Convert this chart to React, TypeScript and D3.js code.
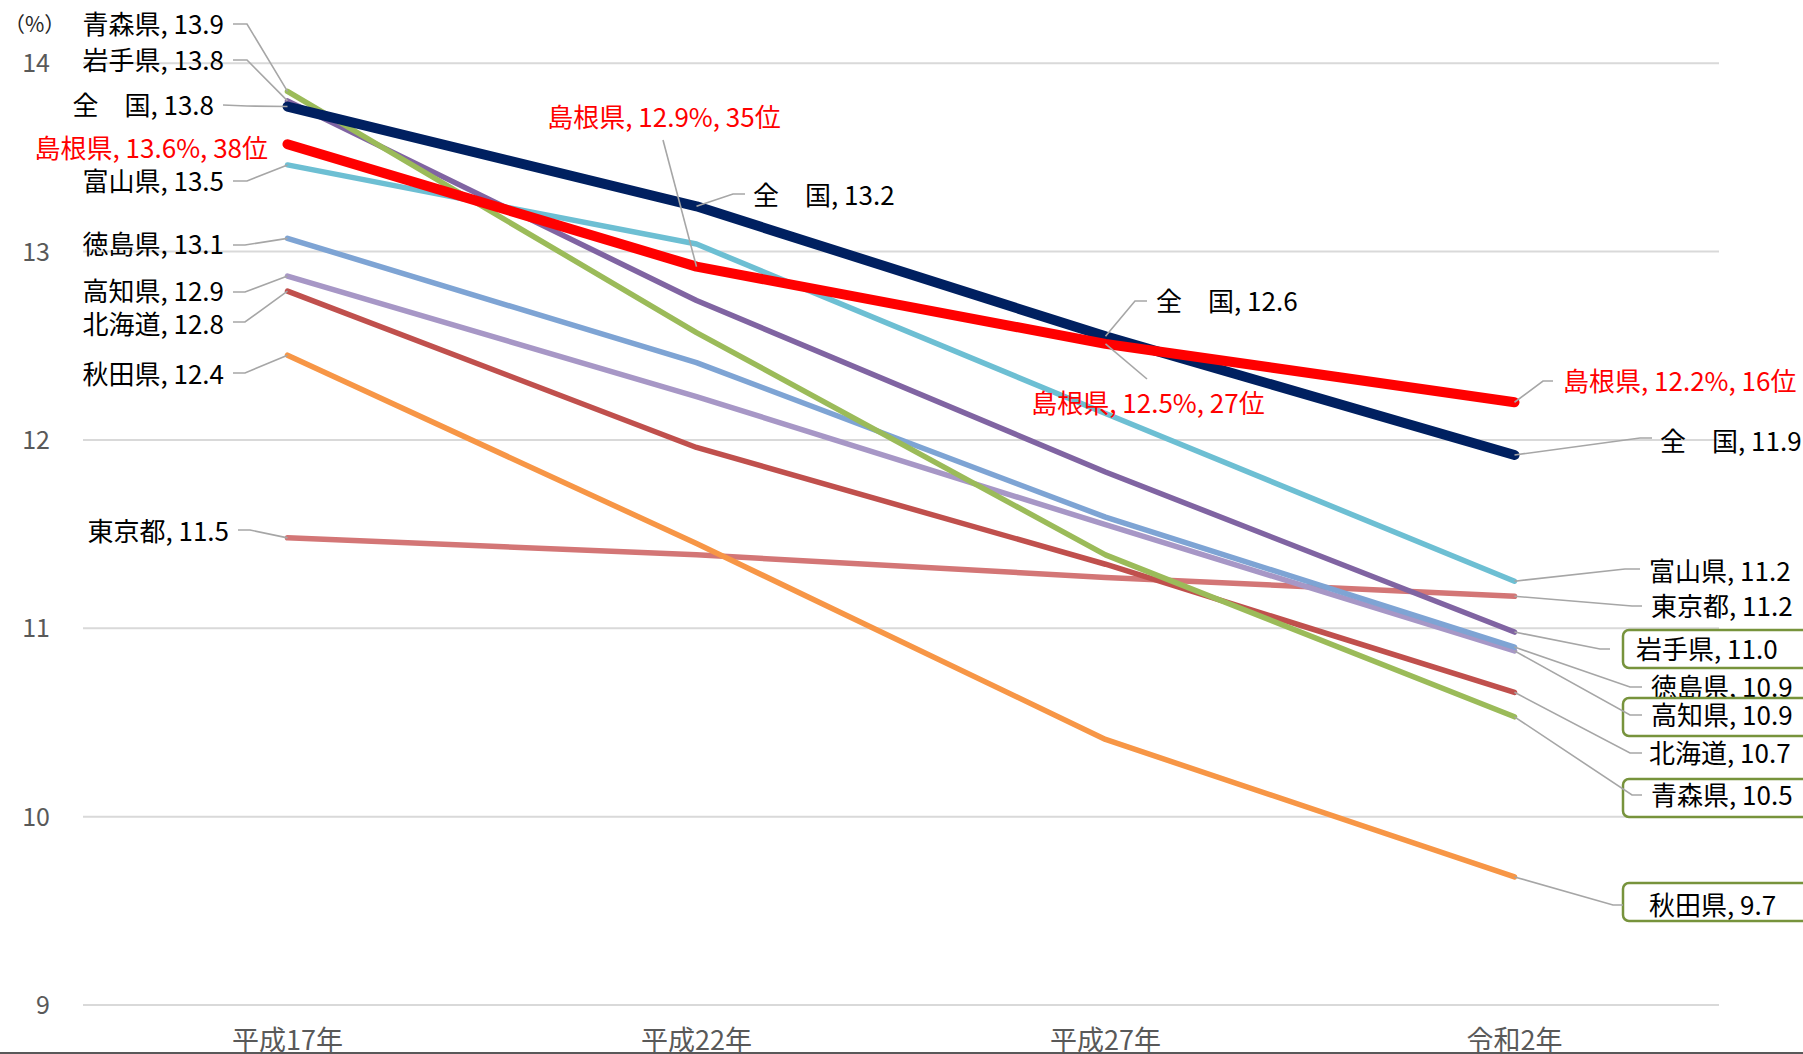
import React from "react";
import * as d3 from "d3";

const categories = ["平成17年", "平成22年", "平成27年", "令和2年"];
const yTicks = [9, 10, 11, 12, 13, 14];

const seriesNames = ["東京都", "秋田県", "北海道", "高知県", "徳島県", "富山県", "岩手県", "青森県", "全国", "島根県"];
const tokyo = [11.48, 11.39, 11.27, 11.17];
const akita = [12.45, 11.45, 10.41, 9.68];
const hokkaido = [12.79, 11.96, 11.34, 10.66];
const kochi = [12.87, 12.23, 11.55, 10.88];
const tokushima = [13.07, 12.41, 11.59, 10.9];
const toyama = [13.46, 13.04, 12.14, 11.25];
const iwate = [13.8, 12.74, 11.83, 10.98];
const aomori = [13.85, 12.57, 11.39, 10.53];
const national = [13.77, 13.24, 12.55, 11.92];
const shimane = [13.57, 12.92, 12.51, 12.2];

const seriesValues: Record<string, number[]> = {
  東京都: tokyo,
  秋田県: akita,
  北海道: hokkaido,
  高知県: kochi,
  徳島県: tokushima,
  富山県: toyama,
  岩手県: iwate,
  青森県: aomori,
  全国: national,
  島根県: shimane,
};

const seriesColors: Record<string, string> = {
  東京都: "#D37676",
  秋田県: "#F79646",
  北海道: "#C0504D",
  高知県: "#A797C6",
  徳島県: "#7EA4D4",
  富山県: "#6DBFD3",
  岩手県: "#8064A2",
  青森県: "#9BBB59",
  全国: "#002060",
  島根県: "#FF0000",
};

type Lab = {
  s: string;
  i: number;
  text: string;
  tx: number;
  ty: number;
  anchor: "start" | "end" | "middle";
  red?: boolean;
  leader?: [number, number, number, number] | null;
  box?: [number, number, number, number];
};

const labels: Lab[] = [
  { s: "青森県", i: 0, text: "青森県, 13.9", tx: 224, ty: 25, anchor: "end", leader: [247, 24, 233, 24] },
  { s: "岩手県", i: 0, text: "岩手県, 13.8", tx: 224, ty: 61, anchor: "end", leader: [247, 60, 233, 60] },
  { s: "全国", i: 0, text: "全　国, 13.8", tx: 214, ty: 106, anchor: "end", leader: [247, 106, 223, 105] },
  { s: "島根県", i: 0, text: "島根県, 13.6%, 38位", tx: 268, ty: 149, anchor: "end", red: true, leader: null },
  { s: "富山県", i: 0, text: "富山県, 13.5", tx: 224, ty: 182, anchor: "end", leader: [247, 181, 233, 181] },
  { s: "徳島県", i: 0, text: "徳島県, 13.1", tx: 224, ty: 245, anchor: "end", leader: [245, 245, 233, 245] },
  { s: "高知県", i: 0, text: "高知県, 12.9", tx: 224, ty: 292, anchor: "end", leader: [245, 292, 233, 292] },
  { s: "北海道", i: 0, text: "北海道, 12.8", tx: 224, ty: 325, anchor: "end", leader: [245, 322, 233, 322] },
  { s: "秋田県", i: 0, text: "秋田県, 12.4", tx: 224, ty: 375, anchor: "end", leader: [245, 373, 233, 373] },
  { s: "東京都", i: 0, text: "東京都, 11.5", tx: 229, ty: 532, anchor: "end", leader: [250, 530, 238, 530] },

  { s: "全国", i: 1, text: "全　国, 13.2", tx: 753, ty: 196, anchor: "start", leader: [733, 194, 745, 194] },
  { s: "島根県", i: 1, text: "島根県, 12.9%, 35位", tx: 664, ty: 118, anchor: "middle", red: true, leader: [663, 140, 663, 140] },
  { s: "全国", i: 2, text: "全　国, 12.6", tx: 1156, ty: 302, anchor: "start", leader: [1135, 301, 1147, 301] },
  { s: "島根県", i: 2, text: "島根県, 12.5%, 27位", tx: 1148, ty: 404, anchor: "middle", red: true, leader: [1147, 379, 1147, 379] },

  { s: "島根県", i: 3, text: "島根県, 12.2%, 16位", tx: 1563, ty: 382, anchor: "start", red: true, leader: [1543, 381, 1553, 381] },
  { s: "全国", i: 3, text: "全　国, 11.9", tx: 1660, ty: 442, anchor: "start", leader: [1640, 438, 1652, 438] },
  { s: "富山県", i: 3, text: "富山県, 11.2", tx: 1649, ty: 572, anchor: "start", leader: [1625, 569, 1640, 569] },
  { s: "東京都", i: 3, text: "東京都, 11.2", tx: 1651, ty: 607, anchor: "start", leader: [1632, 606, 1642, 606] },
  { s: "岩手県", i: 3, text: "岩手県, 11.0", tx: 1636, ty: 650, anchor: "start", leader: [1600, 649, 1610, 649], box: [1623, 630, 200, 38] },
  { s: "徳島県", i: 3, text: "徳島県, 10.9", tx: 1651, ty: 688, anchor: "start", leader: [1630, 687, 1642, 687] },
  { s: "高知県", i: 3, text: "高知県, 10.9", tx: 1651, ty: 716, anchor: "start", leader: [1630, 715, 1642, 715], box: [1623, 698, 200, 38] },
  { s: "北海道", i: 3, text: "北海道, 10.7", tx: 1649, ty: 754, anchor: "start", leader: [1630, 753, 1642, 753] },
  { s: "青森県", i: 3, text: "青森県, 10.5", tx: 1651, ty: 796, anchor: "start", leader: [1632, 795, 1642, 795], box: [1623, 779, 200, 38] },
  { s: "秋田県", i: 3, text: "秋田県, 9.7", tx: 1649, ty: 906, anchor: "start", leader: [1613, 905, 1623, 905], box: [1623, 883, 200, 38] },
];

const W = 1803;
const H = 1054;
const FONT = "'Noto Sans CJK JP', 'Noto Sans', sans-serif";

export default function App() {
  const x = d3.scalePoint<string>().domain(categories).range([83, 1719]).padding(0.5);
  const y = d3.scaleLinear().domain([9, 14]).range([1005, 63.2]);
  const line = d3
    .line<number>()
    .x((_, i) => x(categories[i]) as number)
    .y((d) => y(d));

  return (
    <svg
      width={W}
      height={H}
      viewBox={`0 0 ${W} ${H}`}
      style={{ position: "fixed", left: 0, top: 0, background: "#fff" }}
      fontFamily={FONT}
    >
      <rect x={0} y={0} width={W} height={H} fill="#fff" />
      {yTicks.map((t) => (
        <line key={t} x1={83} x2={1719} y1={y(t)} y2={y(t)} stroke="#D9D9D9" strokeWidth={2} />
      ))}
      {yTicks.map((t) => (
        <text key={"t" + t} x={50} y={y(t)} dy="0.36em" textAnchor="end" fontSize={25} fill="#595959">
          {t}
        </text>
      ))}
      <text x={4} y={24} dy="0.36em" fontSize={21} fill="#262626">
        （%）
      </text>
      {categories.map((c) => (
        <text key={c} x={x(c)} y={1050} textAnchor="middle" fontSize={27} fill="#595959">
          {c}
        </text>
      ))}
      <line x1={0} x2={W} y1={1053} y2={1053} stroke="#595959" strokeWidth={2} />

      {seriesNames.map((s) => {
        const thick = s === "全国" || s === "島根県";
        return (
          <path
            key={s}
            d={line(seriesValues[s]) || ""}
            fill="none"
            stroke={seriesColors[s]}
            strokeWidth={thick ? 10 : 5.5}
            strokeLinecap="round"
            strokeLinejoin="round"
          />
        );
      })}

      {labels.map((l, k) => (
        <g key={"l" + k}>
          {l.box && (
            <rect
              x={l.box[0]}
              y={l.box[1]}
              width={l.box[2]}
              height={l.box[3]}
              rx={6}
              fill="#fff"
              stroke="#77933C"
              strokeWidth={2.5}
            />
          )}
          <text
            x={l.tx}
            y={l.ty}
            dy="0.36em"
            textAnchor={l.anchor}
            fontSize={26}
            fill={l.red ? "#FF0000" : "#000"}
          >
            {l.text}
          </text>
        </g>
      ))}
      {labels
        .filter((l) => l.leader)
        .map((l, k) => {
          const px = x(categories[l.i]) as number;
          const py = y(seriesValues[l.s][l.i]);
          const [ex, ey, fx, fy] = l.leader as number[];
          return (
            <polyline
              key={"ld" + k}
              points={`${px},${py} ${ex},${ey} ${fx},${fy}`}
              fill="none"
              stroke="#A6A6A6"
              strokeWidth={1.6}
            />
          );
        })}
    </svg>
  );
}
